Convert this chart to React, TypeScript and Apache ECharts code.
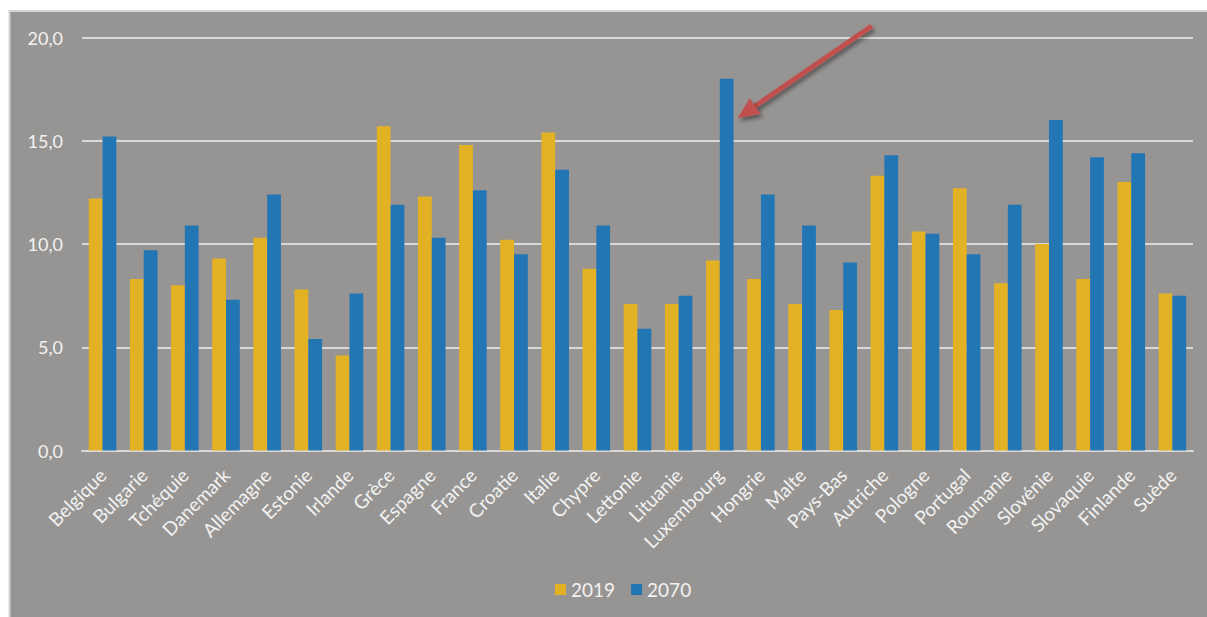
import React, { useEffect, useRef } from "react";
import * as echarts from "echarts";

const categories = [
  "Belgique", "Bulgarie", "Tchéquie", "Danemark", "Allemagne", "Estonie", "Irlande",
  "Grèce", "Espagne", "France", "Croatie", "Italie", "Chypre", "Lettonie", "Lituanie",
  "Luxembourg", "Hongrie", "Malte", "Pays-Bas", "Autriche", "Pologne", "Portugal",
  "Roumanie", "Slovénie", "Slovaquie", "Finlande", "Suède",
];
const values2019 = [
  12.2, 8.3, 8.0, 9.3, 10.3, 7.8, 4.6, 15.7, 12.3, 14.8, 10.2, 15.4, 8.8, 7.1, 7.1,
  9.2, 8.3, 7.1, 6.8, 13.3, 10.6, 12.7, 8.1, 10.0, 8.3, 13.0, 7.6,
];
const values2070 = [
  15.2, 9.7, 10.9, 7.3, 12.4, 5.4, 7.6, 11.9, 10.3, 12.6, 9.5, 13.6, 10.9, 5.9, 7.5,
  18.0, 12.4, 10.9, 9.1, 14.3, 10.5, 9.5, 11.9, 16.0, 14.2, 14.4, 7.5,
];
const seriesNames = ["2019", "2070"];
const arrowTarget = { category: "Luxembourg", value: 16.1 };

const FONT = "Lato, 'Open Sans', sans-serif";
const TEXT = "#f2f2f2";
const GRID = "#d9d9d9";

export default function App() {
  const ref = useRef<HTMLDivElement>(null);
  useEffect(() => {
    if (!ref.current) return;
    const chart = echarts.init(ref.current, undefined, { renderer: "svg" });
    chart.setOption({
      animation: false,
      backgroundColor: "#ffffff",
      textStyle: { fontFamily: FONT },
      graphic: [
        {
          id: "panel",
          type: "rect",
          z: -10,
          silent: true,
          shape: { x: 9.5, y: 11, width: 1210, height: 620 },
          style: { fill: "#979593", stroke: "#d4d4d4", lineWidth: 2 },
        },
      ],
      grid: { left: 82, right: 14, top: 37.5, bottom: 166.5 },
      legend: {
        bottom: 13,
        left: 550,
        itemWidth: 11,
        itemHeight: 11,
        itemGap: 16,
        icon: "rect",
        textStyle: { color: TEXT, fontSize: 19, fontFamily: FONT },
        data: seriesNames,
      },
      xAxis: {
        type: "category",
        data: categories,
        axisLine: { lineStyle: { color: GRID, width: 2 } },
        axisTick: { show: false },
        axisLabel: {
          rotate: 45,
          interval: 0,
          color: TEXT,
          fontSize: 19,
          fontFamily: FONT,
          margin: 21,
        },
      },
      yAxis: {
        type: "value",
        min: 0,
        max: 20,
        interval: 5,
        axisLine: { show: false },
        axisTick: { show: false },
        splitLine: { lineStyle: { color: GRID, width: 2 } },
        axisLabel: {
          color: TEXT,
          fontSize: 18,
          fontFamily: FONT,
          margin: 19,
          formatter: (v: number) => v.toFixed(1).replace(".", ","),
        },
      },
      series: [
        {
          name: seriesNames[0],
          type: "bar",
          data: values2019,
          itemStyle: { color: "#e3b224" },
          barGap: "0%",
          barCategoryGap: "33%",
        },
        {
          name: seriesNames[1],
          type: "bar",
          data: values2070,
          itemStyle: { color: "#2376b4" },
          barGap: "0%",
          barCategoryGap: "33%",
        },
      ],
    });

    const p = chart.convertToPixel({ xAxisIndex: 0, yAxisIndex: 0 }, [
      arrowTarget.category,
      arrowTarget.value,
    ]) as number[];
    const tip = [p[0] + 18, p[1]];
    const tail = [tip[0] + 134, tip[1] - 92];
    const dx = tip[0] - tail[0];
    const dy = tip[1] - tail[1];
    const len = Math.hypot(dx, dy);
    const ux = dx / len;
    const uy = dy / len;
    const nx = -uy;
    const ny = ux;
    const headLen = 21;
    const headHalf = 9.5;
    const base = [tip[0] - ux * headLen, tip[1] - uy * headLen];
    const shadow = {
      shadowColor: "rgba(0,0,0,0.45)",
      shadowBlur: 4,
      shadowOffsetX: 2,
      shadowOffsetY: 3,
    };
    chart.setOption({
      graphic: [
        {
          id: "arrowLine",
          type: "line",
          z: 100,
          shape: { x1: tail[0], y1: tail[1], x2: base[0] + ux * 2, y2: base[1] + uy * 2 },
          style: { stroke: "#c0504d", lineWidth: 5, ...shadow },
        },
        {
          id: "arrowHead",
          type: "polygon",
          z: 100,
          shape: {
            points: [
              tip,
              [base[0] + nx * headHalf, base[1] + ny * headHalf],
              [base[0] - nx * headHalf, base[1] - ny * headHalf],
            ],
          },
          style: { fill: "#c0504d", ...shadow },
        },
      ],
    });

    return () => chart.dispose();
  }, []);

  return (
    <div
      ref={ref}
      style={{ position: "fixed", left: 0, top: 0, width: 1207, height: 617 }}
    />
  );
}
